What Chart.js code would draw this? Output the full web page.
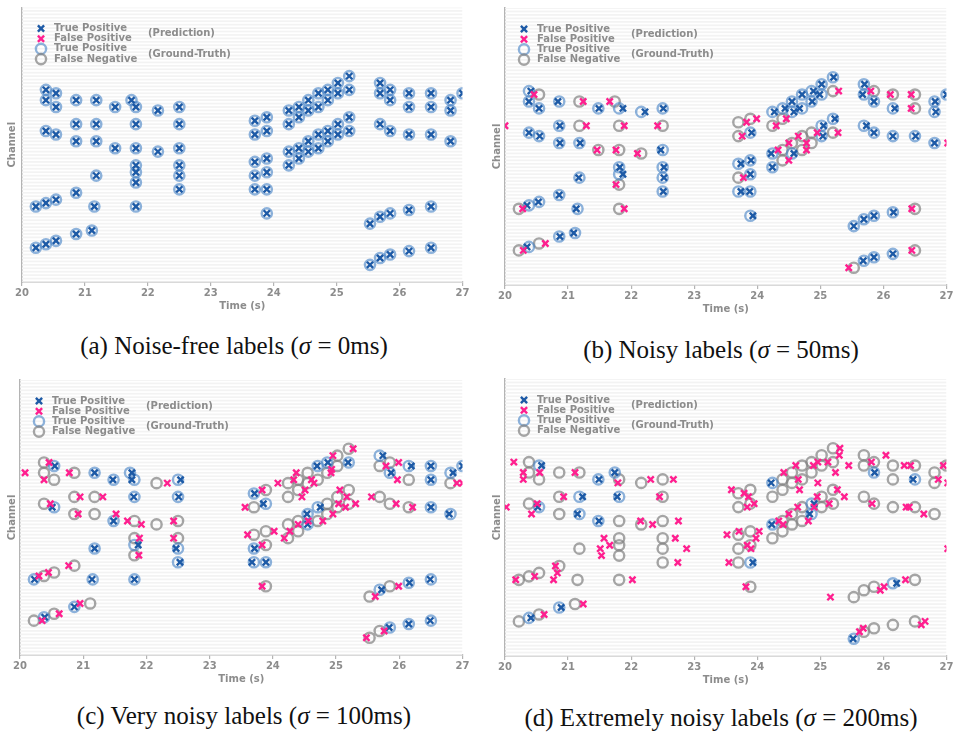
<!DOCTYPE html>
<html>
<head>
<meta charset="utf-8">
<script src="https://cdn.jsdelivr.net/npm/chart.js@4.4.1/dist/chart.umd.min.js"></script>
<style>
  body { margin: 0; background: #fff; }
  #page { position: relative; width: 954px; height: 732px; overflow: hidden; }
  canvas { position: absolute; }
  .caption {
    position: absolute; width: 480px; text-align: center;
    font-family: "Liberation Serif", serif; font-size: 25px; line-height: 28px; color: #111;
  }
</style>
</head>
<body>
<div id="page">
  <canvas id="chartA"></canvas>
  <canvas id="chartB"></canvas>
  <canvas id="chartC"></canvas>
  <canvas id="chartD"></canvas>
  <div class="caption" style="left:-6px; top:332px;">(a) Noise-free labels (<i>σ</i> = 0ms)</div>
  <div class="caption" style="left:481px; top:336px;">(b) Noisy labels (<i>σ</i> = 50ms)</div>
  <div class="caption" style="left:4px; top:702px;">(c) Very noisy labels (<i>σ</i> = 100ms)</div>
  <div class="caption" style="left:481px; top:704px;">(d) Extremely noisy labels (<i>σ</i> = 200ms)</div>
</div>
<script>
const _ = null;

// ground-truth notes (onset in s, channel) – same notes in every panel
const gtTime = [
  20.38, 20.54, 20.38, 20.86, 21.18, 20.54, 21.48, 21.74, 21.81, 22.16, 22.50,
  20.86, 21.18, 21.81, 22.50, 20.38, 20.54, 20.86, 21.18, 21.48, 21.81, 22.16, 22.50,
  21.81, 22.50, 21.81, 21.18, 22.50, 21.81, 22.50, 20.86,
  20.22, 20.38, 20.54, 21.15, 21.81, 21.11, 20.86, 20.54, 20.38, 20.22,
  23.70, 23.89, 23.70, 23.89, 23.70, 23.89, 23.70, 23.89, 23.70, 23.89, 23.89,
  24.24, 24.24, 24.40, 24.40, 24.55, 24.55, 24.71, 24.71, 24.86, 24.86, 25.02, 25.02, 25.20, 25.20,
  24.24, 24.24, 24.40, 24.40, 24.55, 24.55, 24.71, 24.71, 24.86, 24.86, 25.02, 25.02, 25.20, 25.20,
  25.69, 25.69, 25.85, 25.85, 26.15, 26.15, 26.50, 26.50, 26.81, 26.81, 27.00,
  25.69, 25.85, 26.15, 26.50, 26.81,
  25.53, 25.69, 25.85, 26.15, 26.50, 25.53, 25.69, 25.85, 26.15, 26.50
];
const gtPitch = [
  86, 85, 83, 83, 83, 81, 81, 83, 81, 80, 81,
  76, 76, 76, 76, 74, 73, 71, 71, 69, 69, 68, 69,
  64, 64, 62, 61, 61, 59, 57, 56,
  52, 53, 54, 52, 52, 45, 44, 42, 41, 40,
  77, 78, 73, 74, 65, 66, 61, 62, 57, 57, 50,
  80, 76, 81, 78, 83, 80, 85, 81, 86, 83, 88, 85, 90, 86,
  68, 64, 69, 66, 71, 68, 73, 69, 74, 71, 76, 73, 78, 74,
  88, 85, 86, 83, 85, 81, 85, 81, 83, 80, 85,
  76, 74, 73, 73, 71,
  47, 49, 50, 51, 52, 35, 37, 38, 39, 40
];

// matched prediction time for each note (null = missed note)
const hitsA = gtTime.slice(); // noise-free: every note hit on time
const hitsB = [
  20.41, _, 20.38, 20.84, _, 20.54, 21.49, _, 21.87, 22.22, 22.51,
  20.87, _, _, _, 20.38, 20.55, 20.87, 21.19, _, _, _, 22.47,
  21.82, 22.52, 21.87, 21.17, 22.52, _, 22.51, 20.86,
  _, 20.35, 20.53, 21.13, _, 21.09, 20.87, _, 20.35, _,
  _, _, _, 23.91, 23.74, 23.90, _, 23.89, 23.74, 23.88, 23.93,
  24.27, _, 24.44, _, 24.55, 24.58, 24.71, 24.67, 24.89, 24.87, 25.02, 24.99, 25.21, _,
  24.22, 24.24, _, _, _, 24.58, _, _, _, _, 25.05, 25.04, 25.23, _,
  25.70, 25.67, _, 25.85, _, 26.18, _, _, 26.82, 26.83, 27.00,
  25.73, 25.85, 26.15, 26.51, 26.81,
  25.53, 25.69, 25.85, 26.16, _, _, 25.68, 25.85, 26.15, _
];
const hitsC = [
  _, 20.55, _, _, 21.18, _, 21.47, 21.77, 21.77, _, 22.54,
  _, _, 21.80, 22.51, _, 20.51, _, _, 21.48, _, _, _,
  _, _, 21.87, 21.18, 22.47, _, 22.53, _,
  20.23, _, _, 21.14, 21.81, _, 20.86, _, 20.39, _,
  23.71, _, _, 23.85, _, _, 23.71, _, 23.67, 23.89, _,
  _, _, _, _, _, _, 24.70, _, 24.87, _, _, _, _, 25.19,
  _, _, _, _, 24.54, 24.55, 24.75, _, _, _, _, _, _, _,
  25.74, _, _, 25.87, 26.19, _, 26.50, 26.50, 26.85, _, 27.00,
  _, _, _, 26.50, 26.79,
  _, 25.72, _, 26.16, 26.49, _, _, 25.84, 26.15, 26.49
];
const hitsD = [
  _, 20.58, _, _, _, _, 21.49, 21.74, _, _, _,
  _, 21.23, 21.78, _, _, 20.52, _, 21.15, 21.49, _, _, _,
  _, _, _, _, _, _, _, _,
  _, _, _, _, _, _, 20.89, _, 20.41, _,
  _, _, _, _, _, _, _, _, _, 23.93, _,
  24.22, _, _, _, _, _, _, _, _, _, _, _, _, _,
  24.23, _, _, _, _, _, _, _, 24.90, 24.83, _, _, _, _,
  _, _, _, 25.86, _, _, _, 26.47, _, _, _,
  _, _, _, _, _,
  _, _, _, 26.21, _, 25.52, _, _, _, _
];

// false-positive predictions [time, channel]
const fpA = [];
const fpB = [
  [20.46, 85], [21.24, 83], [21.66, 83], [21.29, 76], [21.89, 76], [22.42, 76], [20.00, 76],
  [21.46, 69], [21.76, 69], [22.10, 68], [21.76, 59], [20.28, 52], [21.89, 52], [20.64, 42], [20.29, 40],
  [23.83, 77], [23.99, 78], [23.76, 73], [23.78, 61], [24.30, 76], [24.46, 78], [25.29, 86],
  [24.33, 69], [24.50, 66], [24.50, 71], [24.65, 73], [24.78, 69], [24.78, 71], [24.95, 74], [25.28, 74],
  [25.80, 86], [26.11, 85], [26.44, 85], [26.44, 81], [27.02, 71], [26.45, 52], [25.45, 35], [26.45, 40]
];
const fpC = [
  [20.08, 83], [20.46, 86], [20.38, 81], [20.78, 83], [22.33, 80], [20.95, 76], [21.31, 76], [20.48, 74],
  [20.92, 71], [21.52, 71], [21.70, 69], [21.92, 68], [22.43, 69], [21.89, 64], [22.43, 64], [21.88, 59],
  [20.77, 56], [20.30, 53], [20.45, 54], [20.95, 45], [20.62, 42], [20.35, 40],
  [23.83, 78], [23.56, 73], [23.60, 65], [24.02, 66], [23.83, 62], [23.83, 50], [24.08, 80], [24.46, 76],
  [24.33, 81], [24.51, 78], [24.37, 83], [24.61, 81], [24.65, 80], [24.92, 83], [24.93, 84], [24.95, 88],
  [25.27, 90], [24.27, 66], [24.18, 64], [24.40, 68], [24.56, 69], [24.79, 69], [24.95, 71], [25.06, 78],
  [25.04, 74], [25.15, 73], [25.17, 76], [25.31, 74], [25.79, 85], [25.99, 86], [25.97, 81], [26.91, 80],
  [27.00, 80], [25.56, 76], [25.95, 74], [26.21, 73], [25.62, 47], [25.99, 50], [25.48, 35], [25.76, 37]
];
const fpD = [
  [20.14, 86], [20.29, 83], [20.29, 81], [20.55, 83], [21.11, 83], [21.79, 80], [22.31, 81], [22.67, 81],
  [20.93, 76], [22.45, 76], [20.02, 73], [20.51, 74], [20.42, 71], [22.15, 69], [22.34, 68], [22.75, 69],
  [21.57, 64], [22.70, 64], [21.66, 62], [21.51, 61], [21.53, 59], [22.88, 61], [22.74, 57], [20.80, 56],
  [20.83, 54], [20.77, 52], [20.17, 52], [20.47, 53], [22.02, 52], [21.24, 45], [20.62, 42],
  [23.59, 78], [23.79, 77], [23.86, 76], [23.84, 73], [23.95, 74], [23.52, 65], [23.71, 66], [24.03, 66],
  [23.98, 64], [23.84, 62], [23.90, 61], [23.55, 57], [23.82, 50], [24.42, 83], [24.61, 85], [24.65, 81],
  [24.67, 78], [24.89, 85], [24.96, 86], [24.96, 80], [25.12, 86], [25.31, 90], [25.30, 88], [25.24, 83],
  [25.45, 85], [24.34, 69], [24.41, 68], [24.50, 71], [24.64, 73], [24.81, 69], [24.95, 76], [24.90, 73],
  [25.27, 78], [25.38, 76], [25.14, 74], [26.04, 88], [25.81, 86], [26.33, 85], [26.43, 85], [26.95, 85],
  [26.87, 81], [27.02, 80], [25.82, 74], [26.36, 73], [26.41, 73], [26.64, 71], [27.02, 61], [25.16, 47],
  [25.95, 49], [26.01, 50], [26.35, 52], [25.62, 37], [25.68, 38], [26.60, 39], [26.66, 40]
];

const xTicks = [20, 21, 22, 23, 24, 25, 26, 27];
const legendLabels = ['True Positive', 'False Positive', 'True Positive', 'False Negative'];
const legendGroups = ['(Prediction)', '(Ground-Truth)'];

const textGray = '#8c8c8c';
const axisGray = '#b4b4b4';
const styles = {
  tpCross: { pointStyle: 'crossRot', radius: 4.4, borderWidth: 2.4, color: '#1d5aa6' },
  fpCross: { pointStyle: 'crossRot', radius: 4.4, borderWidth: 2.4, color: '#ff1f8f' },
  tpRing: { pointStyle: 'circle', radius: 5.1, borderWidth: 2.4, color: 'rgba(66,128,196,0.6)' },
  fnRing: { pointStyle: 'circle', radius: 5.1, borderWidth: 2.4, color: 'rgba(128,128,128,0.7)' }
};

// light horizontal band for every channel
const stripes = {
  id: 'stripes',
  beforeDatasetsDraw(chart) {
    const { ctx, chartArea: a, scales: { y } } = chart;
    ctx.save();
    ctx.beginPath();
    ctx.rect(a.left, a.top, a.right - a.left, a.bottom - a.top);
    ctx.clip();
    ctx.fillStyle = '#f3f3f3';
    for (let k = y.min; k <= y.max; k++) {
      const y1 = y.getPixelForValue(k + 0.25);
      const y2 = y.getPixelForValue(k - 0.25);
      ctx.fillRect(a.left, y1, a.right - a.left, y2 - y1);
    }
    ctx.restore();
  }
};

const markerLegend = {
  id: 'markerLegend',
  afterDraw(chart) {
    const { ctx, chartArea: a } = chart;
    const order = [styles.tpCross, styles.fpCross, styles.tpRing, styles.fnRing];
    ctx.save();
    ctx.font = 'bold 10px "DejaVu Sans"';
    ctx.textBaseline = 'middle';
    order.forEach((st, i) => {
      const yy = a.top + 21 + i * 10.2;
      ctx.strokeStyle = st.color;
      ctx.fillStyle = 'rgba(0,0,0,0)';
      ctx.lineWidth = st.borderWidth;
      Chart.helpers.drawPoint(ctx, { pointStyle: st.pointStyle, radius: st.radius, borderWidth: st.borderWidth }, a.left + 19, yy);
      ctx.fillStyle = textGray;
      ctx.fillText(legendLabels[i], a.left + 32, yy);
    });
    ctx.fillStyle = textGray;
    ctx.fillText(legendGroups[0], a.left + 126, a.top + 26);
    ctx.fillText(legendGroups[1], a.left + 126, a.top + 46.5);
    ctx.restore();
  }
};

function pointSet(label, data, st, order) {
  return {
    label, data, order,
    pointStyle: st.pointStyle,
    pointRadius: st.radius,
    pointHoverRadius: st.radius,
    pointBorderWidth: st.borderWidth,
    pointBorderColor: st.color,
    pointBackgroundColor: 'rgba(0,0,0,0)',
    clip: 0
  };
}

function makePanel(id, box, hits, fps) {
  const canvas = document.getElementById(id);
  canvas.width = box.width;
  canvas.height = box.height;
  canvas.style.left = box.left + 'px';
  canvas.style.top = box.top + 'px';

  const tpRings = [], fnRings = [], tpCrosses = [];
  gtTime.forEach((t, i) => {
    if (hits[i] === null) {
      fnRings.push({ x: t, y: gtPitch[i] });
    } else {
      tpRings.push({ x: t, y: gtPitch[i] });
      tpCrosses.push({ x: hits[i], y: gtPitch[i] });
    }
  });
  const fpCrosses = fps.map(p => ({ x: p[0], y: p[1] }));

  const tickFont = { family: 'DejaVu Sans', size: 10, weight: 'bold' };

  new Chart(canvas, {
    type: 'scatter',
    data: {
      datasets: [
        pointSet('FP', fpCrosses, styles.fpCross, 1),
        pointSet('TP pred', tpCrosses, styles.tpCross, 2),
        pointSet('TP gt', tpRings, styles.tpRing, 3),
        pointSet('FN gt', fnRings, styles.fnRing, 4)
      ]
    },
    options: {
      responsive: false,
      animation: false,
      events: [],
      layout: {
        padding: { top: box.plotTop - box.top, right: box.left + box.width - box.plotRight, left: 0, bottom: 0 }
      },
      plugins: { legend: { display: false }, tooltip: { enabled: false } },
      scales: {
        x: {
          type: 'linear',
          min: xTicks[0],
          max: xTicks[xTicks.length - 1],
          afterBuildTicks: s => { s.ticks = xTicks.map(v => ({ value: v })); },
          afterFit: s => {
            s.height = box.top + box.height - box.plotBottom;
            s.paddingLeft = 0;
            s.paddingRight = 0;
          },
          ticks: { font: tickFont, color: textGray, padding: 1, maxRotation: 0 },
          grid: { display: true, drawOnChartArea: false, drawTicks: true, tickLength: 4, color: axisGray, lineWidth: 1.2 },
          border: { display: true, color: axisGray, width: 1.5 },
          title: { display: true, text: 'Time (s)', font: tickFont, color: textGray, padding: { top: 0, bottom: 6 } }
        },
        y: {
          type: 'linear',
          min: 30,
          max: 110,
          afterFit: s => { s.width = box.plotLeft - box.left; },
          ticks: { display: false },
          grid: { display: false },
          border: { display: true, color: axisGray, width: 1.5 },
          title: { display: true, text: 'Channel', font: tickFont, color: textGray, padding: { top: 6, bottom: 0 } }
        }
      }
    },
    plugins: [stripes, markerLegend]
  });
}

makePanel('chartA', { left: 0, top: 0, width: 470, height: 318, plotLeft: 22, plotTop: 7, plotRight: 464, plotBottom: 282 }, hitsA, fpA);
makePanel('chartB', { left: 485, top: 0, width: 469, height: 321, plotLeft: 505, plotTop: 8, plotRight: 950, plotBottom: 285 }, hitsB, fpB);
makePanel('chartC', { left: 0, top: 370, width: 470, height: 321, plotLeft: 20, plotTop: 380, plotRight: 463, plotBottom: 655 }, hitsC, fpC);
makePanel('chartD', { left: 485, top: 370, width: 469, height: 322, plotLeft: 505, plotTop: 379, plotRight: 950, plotBottom: 656 }, hitsD, fpD);
</script>
</body>
</html>
